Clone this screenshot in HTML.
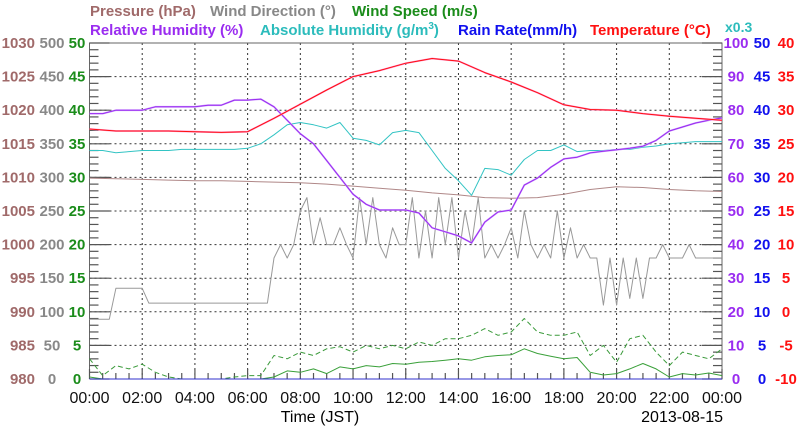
<!DOCTYPE html>
<html><head><meta charset="utf-8"><style>
html,body{margin:0;padding:0;background:#fff}
svg{display:block}
text{font-family:"Liberation Sans",sans-serif}
.b{font-weight:bold;font-size:15px}
</style></head><body>
<svg id="chart" width="800" height="434" viewBox="0 0 800 434" xmlns="http://www.w3.org/2000/svg">
<g class="b">
<text x="90" y="16" fill="#a06a6a">Pressure (hPa)</text>
<text x="210" y="16" fill="#888">Wind Direction (°)</text>
<text x="352" y="16" fill="#1a8c1a">Wind Speed (m/s)</text>
<text x="90" y="35" fill="#9a2cf0">Relative Humidity (%)</text>
<text x="260" y="35" fill="#2cbcbc">Absolute Humidity (g/m<tspan font-size="10" dy="-6">3</tspan><tspan dy="6">)</tspan></text>
<text x="458" y="35" fill="#1010ee">Rain Rate(mm/h)</text>
<text x="590" y="35" fill="#ff1010">Temperature (°C)</text>
<text x="725" y="32" fill="#2cbcbc" font-size="14">x0.3</text>
</g>
<g id="grid"></g><g id="axes"></g><g id="series"></g>
<text x="320" y="422" text-anchor="middle" font-size="16">Time (JST)</text>
<text x="723" y="422" text-anchor="end" font-size="16">2013-08-15</text>
</svg>
<script>
// ---- data ----
const xTickLabels = ["00:00","02:00","04:00","06:00","08:00","10:00","12:00","14:00","16:00","18:00","20:00","22:00","00:00"];
const pressureTicks = ["980","985","990","995","1000","1005","1010","1015","1020","1025","1030"];
const windDirTicks = ["0","50","100","150","200","250","300","350","400","450","500"];
const windSpeedTicks = ["0","5","10","15","20","25","30","35","40","45","50"];
const rhTicks = ["0","10","20","30","40","50","60","70","80","90","100"];
const rainTicks = ["0","5","10","15","20","25","30","35","40","45","50"];
const tempTicks = ["-10","-5","0","5","10","15","20","25","30","35","40"];
// hourly
const temperature = [27.2,26.9,26.9,26.9,26.8,26.7,26.8,28.8,30.9,33.0,35.0,35.9,37.0,37.7,37.3,35.6,34.2,32.6,30.8,30.1,30.0,29.5,29.1,28.8,28.5];
const pressure = [1009.9,1009.8,1009.7,1009.6,1009.5,1009.5,1009.4,1009.3,1009.2,1009.0,1008.7,1008.4,1008.1,1007.7,1007.4,1007.0,1006.9,1007.0,1007.5,1008.2,1008.6,1008.5,1008.2,1008.0,1007.9];
// half-hourly
const relHumidity = [79,79,80,80,80,81,81,81,81,81.5,81.5,83,83,83.3,
 81,77,73,70,65,60,55,52,50.3,50.3,50.3,49.4,45,43.8,42.6,40.5,46.7,49.7,50.3,57.7,59.8,63,65.5,66,67.3,67.8,68.2,68.7,69.3,71,73.8,75,76.2,77,77.7];
const absHumidity = [20.4,20.4,20.2,20.3,20.4,20.4,20.4,20.5,20.5,20.5,20.5,20.5,20.6,21.0,
 21.8,22.7,22.9,22.7,22.4,22.9,21.5,21.3,20.9,22.0,22.2,22.0,20.4,18.8,17.7,16.4,18.8,18.7,18.2,19.6,20.4,20.4,20.9,20.3,20.4,20.4,20.5,20.5,20.7,20.8,21.0,21.1,21.2,21.2,21.2];
const windSpeed = [0.3,0,0,0,0,0,0,0,0,0,0,0,0,0,
 0.3,1.2,1.0,1.5,0.8,1.8,1.5,2.0,1.8,2.3,2.2,2.5,2.6,2.8,3.0,2.8,3.3,3.5,3.6,4.5,3.8,3.4,3.0,3.2,1.0,0.6,0.8,1.5,2.3,1.5,0.3,0.8,0.6,0.9,0.5];
const windGust = [3.0,0.5,2.0,1.5,2.2,1.0,0.3,0,0,0,0,0.3,0.5,0.5,
 3.5,3.0,4.0,3.5,4.5,4.8,4.0,5.0,4.5,5.0,4.5,5.5,5.0,6.0,6.0,6.5,7.5,6.5,7.0,9.0,7.0,6.5,6.5,7.0,3.5,5.0,2.5,6.0,6.5,4.0,2.0,4.0,3.5,3.0,4.5];
const rainRate = [0,0,0,0,0,0,0,0,0,0,0,0,0,0,0,0,0,0,0,0,0,0,0,0,0];
// 15-minute
const windDirection = [89,89,89,89,135,135,135,135,135,113,113,113,113,113,113,113,113,113,113,113,113,113,113,113,113,113,113,113,
 180,200,180,200, 250,270,200,240, 200,200,225,200, 180,270,200,270, 200,180,225,200, 200,270,180,250,
 180,270,200,270, 180,250,200,270, 180,200,180,200, 225,180,250,200, 180,200,180,250, 180,225,180,200,
 180,180,110,180, 110,180,120,180, 120,180,180,200, 180,180,180,200, 180,180,180,180, 180];

// ---- axes ----
const L=89.5, R=722, T=43, B=379;
const xAt = h => L + (R-L)*h/24;
const yFrac = f => B - (B-T)*f;
const yPressure = v => yFrac((v-980)/50);
const yWindDir = v => yFrac(v/500);
const yWind = v => yFrac(v/50);
const yRH = v => yFrac(v/100);
const yAbs = v => yFrac(v/0.3/100);
const yRain = v => yFrac(v/50);
const yTemp = v => yFrac((v+10)/50);
const NS="http://www.w3.org/2000/svg";
function mk(parent, tag, attrs){const e=document.createElementNS(NS,tag);for(const k in attrs)e.setAttribute(k,attrs[k]);parent.appendChild(e);return e;}
const grid=document.getElementById('grid'), axes=document.getElementById('axes'), series=document.getElementById('series');

const frame=mk(axes,'path',{d:`M${L},${B} L${L},${T} L${R},${T} L${R},${B} L${L},${B}`,fill:'none',stroke:'#666','stroke-width':1});


for(let i=1;i<10;i++){const y=yFrac(i/10);
 const g=mk(grid,'line',{x1:L,x2:R,y1:y,y2:y,stroke:'#333','stroke-dasharray':'2,3','stroke-width':1});
 
 }
for(let h=2;h<24;h+=2){const x=xAt(h);
 const g=mk(grid,'line',{x1:x,x2:x,y1:T,y2:B,stroke:'#333','stroke-dasharray':'2,3','stroke-width':1});
 
 }
for(let i=0;i<=50;i++){const y=yFrac(i/50);const len=(i%5===0)?20:9;
 const t1=mk(axes,'line',{x1:L,x2:L+len,y1:y,y2:y,stroke:'#555','stroke-width':1.2});
 
 
 const t2=mk(axes,'line',{x1:R,x2:R-len,y1:y,y2:y,stroke:'#555','stroke-width':1.2});
 
 }
for(let i=0;i<=48;i++){const x=xAt(i/2);const len=(i%4===0)?10:6;
 const t=mk(axes,'line',{x1:x,x2:x,y1:B,y2:B-len,stroke:'#555','stroke-width':1.2});
 
 }
xTickLabels.forEach((s,i)=>{const t=mk(axes,'text',{x:xAt(i*2),y:403,'text-anchor':'middle','font-size':16,fill:'#111'});t.textContent=s;
 
 });
function yLabels(arr, x, anchor, color, name){arr.forEach((s,i)=>{const t=mk(axes,'text',{x:x,y:yFrac(i/10)+5,'text-anchor':anchor,fill:color,class:'b'});t.textContent=s;
 
 });}
yLabels(pressureTicks,35,'end','#a06a6a','pressure-tick-label');
yLabels(windDirTicks,52,'middle','#888','wind-direction-tick-label');
yLabels(windSpeedTicks,77,'middle','#1a8c1a','wind-speed-tick-label');
yLabels(rhTicks,736,'middle','#9a2cf0','humidity-tick-label');
yLabels(rainTicks,762,'middle','#1010ee','rain-tick-label');
yLabels(tempTicks,786,'middle','#ff1010','temperature-tick-label');

function line(arr, stepH, yf, color, name, extra){
 const d=arr.map((v,i)=>(i?'L':'M')+xAt(i*stepH).toFixed(1)+','+yf(v).toFixed(1)).join(' ');
 const p=mk(series,'path',Object.assign({d:d,fill:'none',stroke:color,'stroke-width':1,'stroke-linejoin':'round'},extra||{}));
 
 
 return p;}
line(windDirection,0.25,yWindDir,'#999','wind-direction-line');
line(pressure,1,yPressure,'#b08888','pressure-line');
line(absHumidity,0.5,yAbs,'#33c4c4','absolute-humidity-line');
line(relHumidity,0.5,yRH,'#d0a0ff','relative-humidity-shadow',{'stroke-width':1.8});
line(relHumidity,0.5,yRH,'#9a2cf0','relative-humidity-line');
line(temperature,1,yTemp,'#ff90d0','temperature-shadow',{'stroke-width':1.8});
line(temperature,1,yTemp,'#ff1010','temperature-line');
line(windGust,0.5,yWind,'#3a9a3a','wind-gust-line',{'stroke-dasharray':'5,3'});
line(windSpeed,0.5,yWind,'#3aa03a','wind-speed-line');
line(rainRate,1,yRain,'#3030cc','rain-rate-line');
</script>
</body></html>
